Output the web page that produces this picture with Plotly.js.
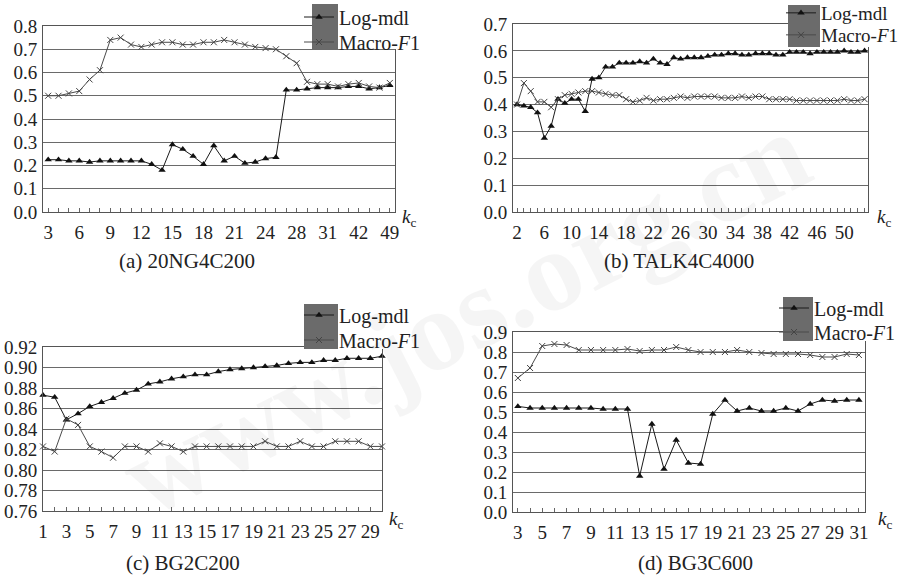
<!DOCTYPE html>
<html>
<head>
<meta charset="utf-8">
<script src="https://cdn.plot.ly/plotly-3.0.1.min.js"></script>
<style>
html,body{margin:0;padding:0;background:#fff;}
#chart{width:904px;height:575px;}
#chart svg text{font-family:"Liberation Serif",serif !important;}
</style>
</head>
<body>
<div id="chart"></div>
<script>
// ---------- data ----------
// (a) 20NG4C200
const kA = ['3','4','5','6','7','8','9','10','11','12','13','14','15','16','17','18','19','20','21','22','23','24','25','26','28','29','30','31','35','38','42','44','46','49'];
const labelsA = ['3','6','9','12','15','18','21','24','28','31','42','49'];
const logA = [0.225,0.225,0.22,0.22,0.215,0.22,0.22,0.22,0.22,0.22,0.205,0.18,0.29,0.27,0.24,0.205,0.285,0.22,0.24,0.21,0.215,0.23,0.235,0.525,0.525,0.53,0.535,0.535,0.535,0.54,0.54,0.53,0.535,0.545];
const f1A  = [0.50,0.50,0.51,0.52,0.57,0.61,0.74,0.75,0.72,0.71,0.72,0.73,0.73,0.72,0.72,0.73,0.73,0.74,0.73,0.72,0.71,0.705,0.70,0.67,0.64,0.56,0.55,0.55,0.54,0.55,0.555,0.54,0.535,0.555];

// (b) TALK4C4000
const kB = [2,3,4,5,6,7,8,9,10,11,12,13,14,15,16,17,18,19,20,21,22,23,24,25,26,27,28,29,30,31,32,33,34,35,36,37,38,39,40,41,42,43,44,45,46,47,48,49,50,51,52,53];
const labelsB = [2,6,10,14,18,22,26,30,34,38,42,46,50];
const logB = [0.40,0.395,0.39,0.37,0.275,0.32,0.42,0.405,0.42,0.42,0.375,0.495,0.50,0.54,0.54,0.555,0.555,0.555,0.56,0.555,0.57,0.555,0.55,0.575,0.57,0.575,0.575,0.575,0.58,0.585,0.585,0.59,0.59,0.585,0.585,0.59,0.59,0.59,0.585,0.585,0.595,0.595,0.595,0.59,0.595,0.595,0.595,0.595,0.60,0.595,0.595,0.60];
const f1B  = [0.40,0.48,0.45,0.41,0.41,0.39,0.42,0.435,0.44,0.445,0.45,0.45,0.445,0.44,0.435,0.435,0.42,0.41,0.415,0.425,0.415,0.42,0.42,0.425,0.43,0.425,0.43,0.43,0.43,0.43,0.425,0.425,0.425,0.43,0.425,0.43,0.43,0.42,0.42,0.42,0.42,0.415,0.415,0.415,0.415,0.415,0.415,0.415,0.42,0.415,0.415,0.42];

// (c) BG2C200
const kC = [1,2,3,4,5,6,7,8,9,10,11,12,13,14,15,16,17,18,19,20,21,22,23,24,25,26,27,28,29,30];
const labelsC = [1,3,5,7,9,11,13,15,17,19,21,23,25,27,29];
const logC = [0.873,0.871,0.849,0.855,0.862,0.866,0.870,0.875,0.878,0.884,0.886,0.889,0.891,0.893,0.893,0.896,0.898,0.899,0.900,0.901,0.902,0.904,0.905,0.905,0.907,0.907,0.909,0.909,0.909,0.911];
const f1C  = [0.823,0.818,0.850,0.844,0.823,0.818,0.812,0.823,0.823,0.818,0.826,0.823,0.818,0.823,0.823,0.823,0.823,0.823,0.823,0.828,0.823,0.823,0.828,0.823,0.823,0.828,0.828,0.828,0.823,0.823];

// (d) BG3C600
const kD = [3,4,5,6,7,8,9,10,11,12,13,14,15,16,17,18,19,20,21,22,23,24,25,26,27,28,29,30,31];
const labelsD = [3,5,7,9,11,13,15,17,19,21,23,25,27,29,31];
const logD = [0.528,0.52,0.52,0.52,0.52,0.52,0.52,0.515,0.515,0.515,0.18,0.44,0.215,0.36,0.245,0.24,0.49,0.56,0.505,0.52,0.505,0.505,0.52,0.505,0.54,0.56,0.555,0.56,0.56];
const f1D  = [0.67,0.72,0.83,0.84,0.835,0.81,0.81,0.81,0.81,0.815,0.805,0.81,0.81,0.825,0.81,0.80,0.80,0.80,0.81,0.80,0.795,0.79,0.79,0.79,0.785,0.775,0.775,0.79,0.785];

const seriesNames = ['Log-mdl', 'Macro-<i>F</i>1'];
const panelTitles = ['(a) 20NG4C200', '(b) TALK4C4000', '(c) BG2C200', '(d) BG3C600'];
const watermark = 'www.jos.org.cn';

// ---------- layout helpers ----------
const W = 904, H = 575;
const FONT = 'Liberation Serif';
const px = v => v / W;
const py = v => 1 - v / H;

const logStyle = {line: {color: '#1a1a1a', width: 1}, marker: {symbol: 'triangle-up', size: 6.5, color: '#111'}};
const f1Style  = {line: {color: '#4a4a4a', width: 1}, marker: {symbol: 'x-thin', size: 6, color: '#444', line: {width: 1, color: '#444'}}};

function mk(x, y, ax, name, style, leg) {
  return Object.assign({x: x, y: y, xaxis: 'x' + ax, yaxis: 'y' + ax, type: 'scatter', mode: 'lines+markers',
    name: name, legend: leg, cliponaxis: false, hoverinfo: 'skip'}, JSON.parse(JSON.stringify(style)));
}

const data = [
  mk(kA, logA, '', seriesNames[0], logStyle, 'legend'),
  mk(kA, f1A, '', seriesNames[1], f1Style, 'legend2'),
  mk(kB, logB, '2', seriesNames[0], logStyle, 'legend3'),
  mk(kB, f1B, '2', seriesNames[1], f1Style, 'legend4'),
  mk(kC, logC, '3', seriesNames[0], logStyle, 'legend5'),
  mk(kC, f1C, '3', seriesNames[1], f1Style, 'legend6'),
  mk(kD, logD, '4', seriesNames[0], logStyle, 'legend7'),
  mk(kD, f1D, '4', seriesNames[1], f1Style, 'legend8')
];

function xax(domain, anchor, extra) {
  return Object.assign({domain: domain, anchor: anchor, showline: true, linecolor: '#555', linewidth: 1, mirror: true,
    showgrid: false, zeroline: false, ticks: 'inside', ticklen: 4, tickwidth: 1, tickcolor: '#666',
    tickfont: {family: FONT, size: 19, color: '#222'}, tickmode: 'array', ticklabelstandoff: 3}, extra);
}
function yax(domain, anchor, extra) {
  return Object.assign({domain: domain, anchor: anchor, showline: true, linecolor: '#555', linewidth: 1, mirror: true,
    showgrid: true, gridcolor: '#6a6a6a', gridwidth: 1, zeroline: false, ticks: '',
    tickfont: {family: FONT, size: 19, color: '#222'}, ticklabelstandoff: 1}, extra);
}
const textFor = (vals, labels) => vals.map(v => labels.indexOf(v) >= 0 ? String(v) : '');

function legendAt(xpx, ypx, size) {
  return {x: px(xpx), y: py(ypx), xanchor: 'left', yanchor: 'middle', bgcolor: 'rgba(0,0,0,0)', borderwidth: 0,
    itemwidth: 30, font: {family: FONT, size: size, color: '#222'}, itemclick: false, itemdoubleclick: false};
}

function rect(x0, y0, x1, y1, fill) {
  return {type: 'rect', xref: 'paper', yref: 'paper', x0: px(x0), x1: px(x1), y0: py(y1), y1: py(y0),
    fillcolor: fill, line: {width: 0}, layer: 'above'};
}
function ann(text, xpx, ypx, size) {
  return {text: text, xref: 'paper', yref: 'paper', x: px(xpx), y: py(ypx), xanchor: 'center', yanchor: 'middle',
    showarrow: false, font: {family: FONT, size: size, color: '#222'}};
}

const layout = {
  width: W, height: H, margin: {l: 0, r: 0, t: 0, b: 0, autoexpand: false},
  font: {family: FONT, size: 19, color: '#222'},
  paper_bgcolor: '#fff', plot_bgcolor: 'rgba(0,0,0,0)', showlegend: true,
  xaxis:  xax([px(43), px(395)], 'y',  {type: 'category', range: [-0.5, kA.length - 0.5], tickvals: kA, ticktext: textFor(kA, labelsA)}),
  yaxis:  yax([py(212), py(26)], 'x',  {range: [0, 0.8], dtick: 0.1, tickformat: '.1f'}),
  xaxis2: xax([px(513), px(868)], 'y2', {range: [1.4, 53.5], tickvals: kB, ticktext: textFor(kB, labelsB)}),
  yaxis2: yax([py(212), py(24)], 'x2', {range: [0, 0.7], dtick: 0.1, tickformat: '.1f'}),
  xaxis3: xax([px(43), px(382)], 'y3', {range: [1, 30], tickvals: kC, ticktext: textFor(kC, labelsC)}),
  yaxis3: yax([py(511), py(347)], 'x3', {range: [0.76, 0.92], dtick: 0.02, tickformat: '.2f'}),
  xaxis4: xax([px(513), px(865)], 'y4', {range: [2.6, 31.5], tickvals: kD, ticktext: textFor(kD, labelsD)}),
  yaxis4: yax([py(512), py(332)], 'x4', {range: [0, 0.9], dtick: 0.1, tickformat: '.1f'}),
  legend:  legendAt(299, 17, 20),
  legend2: legendAt(299, 42, 20),
  legend3: legendAt(781, 13, 19),
  legend4: legendAt(781, 35, 19),
  legend5: legendAt(299, 315, 20),
  legend6: legendAt(299, 340, 20),
  legend7: legendAt(774, 308, 20),
  legend8: legendAt(774, 332, 20),
  shapes: [
    rect(338, 4, 415, 49, '#ffffff'), rect(312, 4, 338, 49, '#6b6b6b'),
    rect(820, 5, 904, 47, '#ffffff'), rect(788, 5, 820, 47, '#6b6b6b'),
    rect(338, 304, 415, 349, '#ffffff'), rect(304, 304, 338, 349, '#6b6b6b'),
    rect(813, 297, 904, 341, '#ffffff'), rect(783, 297, 813, 341, '#6b6b6b')
  ],
  annotations: [
    {text: watermark, xref: 'paper', yref: 'paper', x: px(465), y: py(315), xanchor: 'center', yanchor: 'middle',
     showarrow: false, textangle: -27, font: {family: FONT, size: 115, weight: 700, color: 'rgba(0,0,0,0.04)'}},
    ann(panelTitles[0], 187, 261, 21),
    ann(panelTitles[1], 679, 261, 21),
    ann(panelTitles[2], 183, 563, 21),
    ann(panelTitles[3], 695, 563, 21),
    ann('<i>k</i><sub>c</sub>', 409, 218, 19),
    ann('<i>k</i><sub>c</sub>', 884, 218, 19),
    ann('<i>k</i><sub>c</sub>', 396, 520, 19),
    ann('<i>k</i><sub>c</sub>', 885, 520, 19)
  ]
};

Plotly.newPlot('chart', data, layout, {staticPlot: true, displayModeBar: false});
</script>
</body>
</html>
